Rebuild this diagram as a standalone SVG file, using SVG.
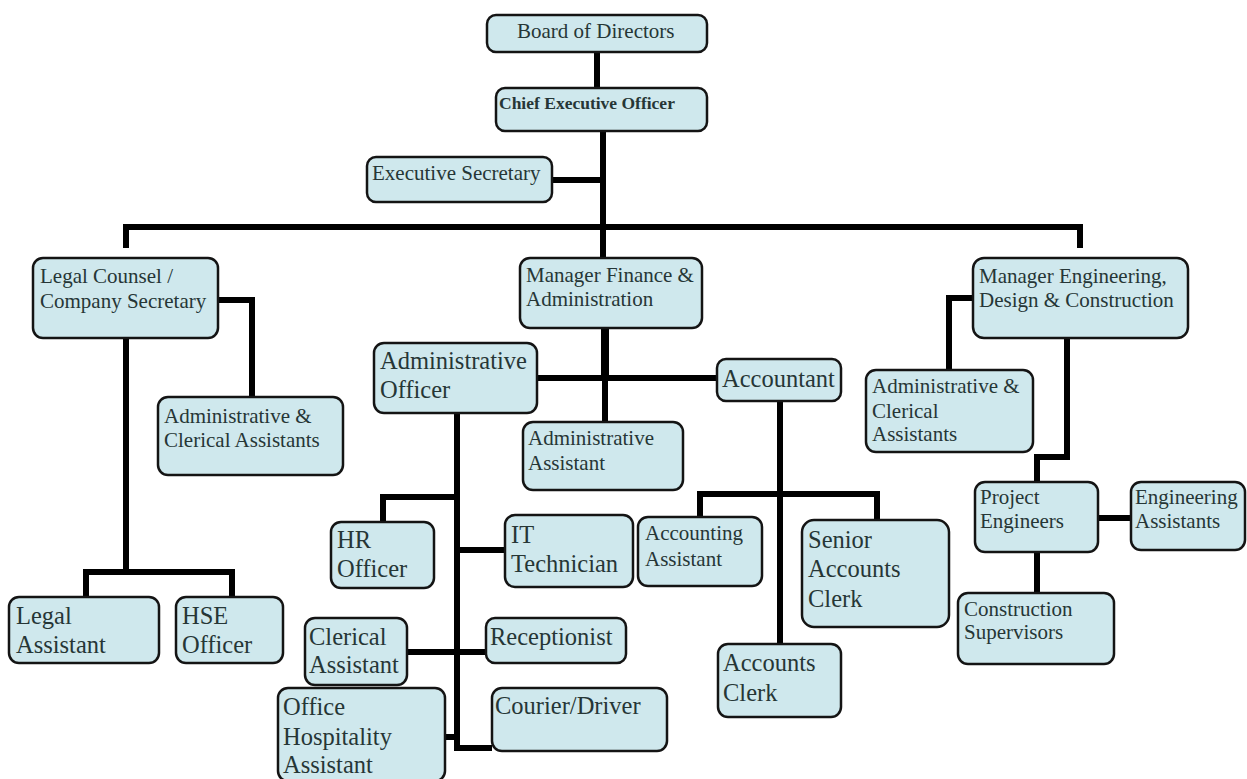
<svg xmlns="http://www.w3.org/2000/svg" width="1247" height="779" viewBox="0 0 1247 779">
<style>
.box{fill:#cfe8ed;stroke:#141414;stroke-width:2.5}
.t{font-family:"Liberation Serif","Times New Roman",serif;font-size:21px;fill:#263636}
.l{font-size:24.5px}
.b{font-weight:bold;font-size:17.5px}
.c{fill:none;stroke:#000;stroke-width:6;stroke-linejoin:miter}
.thick{stroke-width:8}
</style>
<rect width="1247" height="779" fill="#ffffff"/>
<g id="connectors">
<path class="c" d="M597 52V88"/>
<path class="c" d="M603 131V258"/>
<path class="c" d="M552 180H603"/>
<path class="c" d="M126 248V227H1080V248"/>
<path class="c" d="M218 300H252V397"/>
<path class="c" d="M126 338V572"/>
<path class="c" d="M86 597V572H232V597"/>
<path class="c thick" d="M605 328V378"/>
<path class="c" d="M605 378V422"/>
<path class="c" d="M537 378H717"/>
<path class="c" d="M457 413V748H492"/>
<path class="c" d="M383 522V497H457"/>
<path class="c" d="M457 550H505"/>
<path class="c" d="M407 652H486"/>
<path class="c" d="M445 737H457"/>
<path class="c" d="M780 401V644"/>
<path class="c" d="M700 517V494H877V520"/>
<path class="c" d="M973 298H949V370"/>
<path class="c" d="M1067 338V457H1037V482"/>
<path class="c" d="M1098 518H1131"/>
<path class="c" d="M1037 552V593"/>
</g>
<g id="board"><rect class="box" x="487" y="15" width="220" height="37" rx="9"/><text class="t" x="517" y="38">Board of Directors</text></g>
<g id="ceo"><rect class="box" x="496" y="88" width="211" height="43" rx="9"/><text class="t b" x="499" y="109">Chief Executive Officer</text></g>
<g id="exec-secretary"><rect class="box" x="367" y="157" width="185" height="45" rx="9"/><text class="t" x="372" y="180">Executive Secretary</text></g>
<g id="legal-counsel"><rect class="box" x="33" y="258" width="185" height="80" rx="10"/><text class="t" x="40" y="283">Legal Counsel /</text><text class="t" x="40" y="308">Company Secretary</text></g>
<g id="admin-clerical-left"><rect class="box" x="158" y="397" width="185" height="78" rx="10"/><text class="t" x="164" y="423">Administrative &amp;</text><text class="t" x="164" y="447">Clerical Assistants</text></g>
<g id="legal-assistant"><rect class="box" x="9" y="597" width="150" height="66" rx="10"/><text class="t l" x="16" y="624">Legal</text><text class="t l" x="16" y="653">Assistant</text></g>
<g id="hse-officer"><rect class="box" x="176" y="597" width="107" height="66" rx="10"/><text class="t l" x="182" y="624">HSE</text><text class="t l" x="182" y="653">Officer</text></g>
<g id="manager-finance"><rect class="box" x="520" y="258" width="182" height="70" rx="10"/><text class="t" x="526" y="282">Manager Finance &amp;</text><text class="t" x="526" y="306">Administration</text></g>
<g id="admin-officer"><rect class="box" x="374" y="343" width="163" height="70" rx="10"/><text class="t l" x="380" y="369">Administrative</text><text class="t l" x="380" y="398">Officer</text></g>
<g id="admin-assistant"><rect class="box" x="523" y="422" width="160" height="68" rx="10"/><text class="t" x="528" y="445">Administrative</text><text class="t" x="528" y="470">Assistant</text></g>
<g id="accountant"><rect class="box" x="717" y="359" width="124" height="42" rx="9"/><text class="t l" x="722" y="387">Accountant</text></g>
<g id="hr-officer"><rect class="box" x="331" y="522" width="103" height="66" rx="10"/><text class="t l" x="337" y="548">HR</text><text class="t l" x="337" y="577">Officer</text></g>
<g id="it-technician"><rect class="box" x="505" y="515" width="128" height="72" rx="10"/><text class="t l" x="511" y="543">IT</text><text class="t l" x="511" y="572">Technician</text></g>
<g id="clerical-assistant"><rect class="box" x="305" y="618" width="102" height="67" rx="10"/><text class="t l" x="309" y="645">Clerical</text><text class="t l" x="309" y="673">Assistant</text></g>
<g id="receptionist"><rect class="box" x="486" y="618" width="140" height="45" rx="9"/><text class="t l" x="490" y="645">Receptionist</text></g>
<g id="office-hospitality"><rect class="box" x="278" y="688" width="167" height="93" rx="10"/><text class="t l" x="283" y="715">Office</text><text class="t l" x="283" y="745">Hospitality</text><text class="t l" x="283" y="773">Assistant</text></g>
<g id="courier-driver"><rect class="box" x="492" y="688" width="175" height="63" rx="10"/><text class="t l" x="495" y="714">Courier/Driver</text></g>
<g id="accounting-assistant"><rect class="box" x="638" y="517" width="124" height="69" rx="10"/><text class="t" x="645" y="540">Accounting</text><text class="t" x="645" y="566">Assistant</text></g>
<g id="senior-accounts-clerk"><rect class="box" x="802" y="520" width="147" height="107" rx="12"/><text class="t l" x="808" y="548">Senior</text><text class="t l" x="808" y="577">Accounts</text><text class="t l" x="808" y="607">Clerk</text></g>
<g id="accounts-clerk"><rect class="box" x="718" y="644" width="123" height="73" rx="10"/><text class="t l" x="723" y="671">Accounts</text><text class="t l" x="723" y="701">Clerk</text></g>
<g id="manager-engineering"><rect class="box" x="973" y="258" width="215" height="80" rx="11"/><text class="t" x="979" y="283">Manager Engineering,</text><text class="t" x="979" y="307">Design &amp; Construction</text></g>
<g id="admin-clerical-right"><rect class="box" x="866" y="370" width="167" height="82" rx="10"/><text class="t" x="872" y="393">Administrative &amp;</text><text class="t" x="872" y="418">Clerical</text><text class="t" x="872" y="441">Assistants</text></g>
<g id="project-engineers"><rect class="box" x="975" y="482" width="123" height="70" rx="10"/><text class="t" x="980" y="504">Project</text><text class="t" x="980" y="528">Engineers</text></g>
<g id="engineering-assistants"><rect class="box" x="1131" y="482" width="114" height="68" rx="10"/><text class="t" x="1135" y="504">Engineering</text><text class="t" x="1135" y="528">Assistants</text></g>
<g id="construction-supervisors"><rect class="box" x="958" y="593" width="156" height="71" rx="10"/><text class="t" x="964" y="616">Construction</text><text class="t" x="964" y="639">Supervisors</text></g>
</svg>
